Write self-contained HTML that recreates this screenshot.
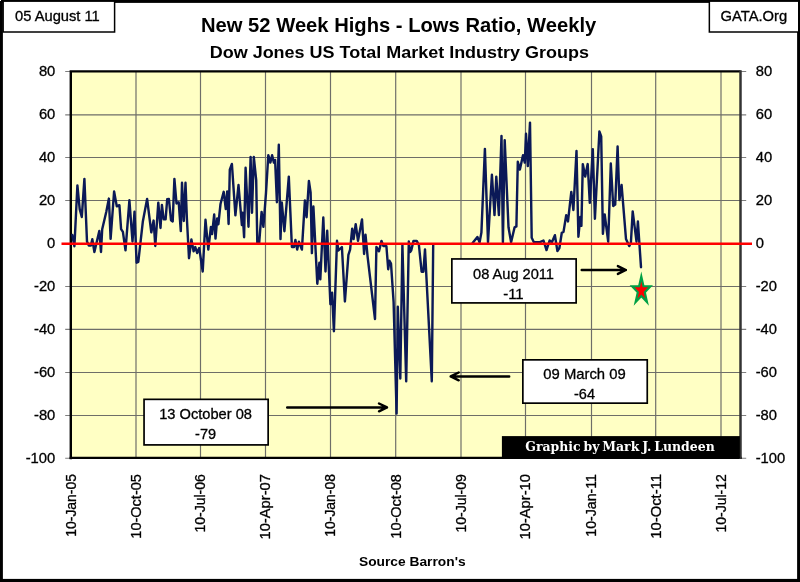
<!DOCTYPE html>
<html lang="en"><head><meta charset="utf-8"><title>New 52 Week Highs - Lows Ratio, Weekly</title>
<style>html,body{margin:0;padding:0;background:#fff}body{width:800px;height:582px;overflow:hidden}svg{display:block}text{font-family:'Liberation Sans', Arial, sans-serif;fill:#000;stroke:#000;stroke-width:.3px}text.b{stroke-width:0}</style></head><body>
<svg width="800" height="582" viewBox="0 0 800 582" style="will-change:transform">
<defs><filter id="gs" filterUnits="userSpaceOnUse" x="0" y="0" width="800" height="582"><feOffset dx="0" dy="0"/></filter></defs>
<rect x="0" y="0" width="800" height="582" fill="#000"/>
<rect x="2.9" y="2.9" width="794.2" height="576.0" fill="#fff"/>
<rect x="70.8" y="71.4" width="669.7" height="386.79999999999995" fill="#ffffc4"/>
<path d="M136.0 71.4V458.2M200.5 71.4V458.2M265.5 71.4V458.2M330.5 71.4V458.2M395.7 71.4V458.2M461.0 71.4V458.2M525.5 71.4V458.2M591.5 71.4V458.2M655.7 71.4V458.2M721.0 71.4V458.2M70.8 114.9H740.5M70.8 157.5H740.5M70.8 200.5H740.5M70.8 243.5H740.5M70.8 286.5H740.5M70.8 329.4H740.5M70.8 372.5H740.5M70.8 415.5H740.5" stroke="#6e6e68" stroke-width="1.18" fill="none"/>
<path d="M65.2 71.5H70.8M740.5 71.5H746.2M65.2 114.9H70.8M740.5 114.9H746.2M65.2 157.5H70.8M740.5 157.5H746.2M65.2 200.5H70.8M740.5 200.5H746.2M65.2 243.5H70.8M740.5 243.5H746.2M65.2 286.5H70.8M740.5 286.5H746.2M65.2 329.4H70.8M740.5 329.4H746.2M65.2 372.5H70.8M740.5 372.5H746.2M65.2 415.5H70.8M740.5 415.5H746.2M65.2 458.3H70.8M740.5 458.3H746.2" stroke="#7f7f7f" stroke-width="1.1" fill="none"/>
<path d="M70.8 459.3V71.4H740.5" stroke="#000" stroke-width="2.4" fill="none"/>
<path d="M69.6 457.9H741.7" stroke="#000" stroke-width="2.2" fill="none"/>
<path d="M740.5 70.2V459.09999999999997" stroke="#333" stroke-width="2.5" fill="none"/>
<polyline points="72.3,235.0 74.4,246.3 77.4,185.4 79.7,209.1 81.8,217.0 84.4,178.9 87.0,241.5 88.8,245.5 90.9,245.5 92.3,239.2 94.4,252.0 99.3,231.0 101.0,252.0 102.2,229.2 106.3,211.7 108.9,198.6 110.6,238.9 114.1,191.5 116.8,206.4 119.4,205.2 121.1,229.2 122.9,231.9 125.5,250.3 129.4,200.3 132.5,241.5 134.5,211.8 136.6,262.7 138.3,261.9 142.8,221.8 147.1,198.9 151.3,232.4 153.6,220.6 155.3,246.0 158.3,202.6 160.5,228.0 161.9,205.0 163.7,219.3 165.6,219.3 167.2,199.3 168.9,199.0 171.0,220.2 172.7,221.4 174.4,178.9 176.5,203.5 178.7,202.2 180.8,231.1 182.0,182.8 183.8,221.0 185.5,182.8 186.9,218.8 189.0,258.2 191.4,239.4 193.6,251.2 195.3,247.0 197.1,253.0 199.2,248.0 202.7,271.5 205.5,219.8 208.3,249.6 210.9,227.0 212.1,234.0 214.2,214.5 215.5,238.6 217.2,218.4 218.4,224.2 220.5,204.0 223.7,191.8 225.8,209.0 227.2,191.5 228.6,224.0 229.8,169.6 231.9,164.0 235.4,215.4 238.5,185.0 241.9,225.1 242.6,212.8 244.1,237.3 245.6,167.8 248.5,226.8 250.6,157.0 252.0,212.8 253.8,157.0 256.2,180.1 257.3,243.0 259.2,242.6 261.6,211.9 263.4,226.8 266.0,193.0 268.3,155.2 270.4,162.6 272.1,155.2 273.9,162.6 275.1,159.9 276.9,202.2 278.8,144.7 280.5,239.1 281.8,202.5 284.4,231.2 288.8,176.6 291.9,247.0 294.0,247.0 295.4,239.9 297.2,249.6 298.9,241.7 301.9,249.6 304.9,200.4 306.6,217.2 308.9,181.0 310.6,192.4 311.9,253.1 313.4,206.5 317.3,283.8 319.4,262.7 320.3,279.4 323.3,217.5 325.5,271.5 327.2,230.8 330.4,304.2 332.1,292.8 333.9,331.3 337.0,240.8 338.4,250.5 341.9,247.0 344.9,301.5 348.4,254.8 350.1,249.6 352.2,228.6 353.6,239.1 355.7,224.2 358.0,240.8 362.0,219.4 364.1,254.0 365.5,234.7 367.6,256.6 375.0,319.1 376.4,247.0 379.0,251.3 381.5,240.9 383.4,246.1 386.4,246.1 388.2,269.2 389.5,260.8 391.0,263.5 393.6,302.0 396.6,413.5 397.8,306.8 400.3,378.5 402.4,244.8 406.2,381.2 408.8,241.4 410.1,252.1 411.3,250.3 413.5,240.9 416.7,240.9 418.9,245.0 421.6,271.7 423.4,271.7 425.0,249.4 431.8,381.4 433.2,244.5" fill="none" stroke="#0b1957" stroke-width="2.42" stroke-linejoin="round" stroke-linecap="round"/>
<polyline points="472.6,243.1 477.4,237.0 479.6,242.2 481.4,232.6 484.9,148.9 488.0,242.2 491.9,174.8 494.5,215.1 496.3,176.6 498.9,215.1 501.5,135.9 502.9,242.2 504.7,140.1 508.5,227.3 511.1,242.2 514.6,227.3 516.4,226.4 517.8,161.7 519.9,169.6 523.0,155.2 524.8,162.6 526.0,133.7 527.8,166.1 530.0,122.6 531.7,237.8 533.9,242.2 540.0,242.2 543.5,240.5 546.5,250.1 549.6,240.5 551.9,242.2 554.9,235.2 557.4,251.1 559.4,248.0 561.8,232.8 563.5,231.9 566.2,215.2 568.0,221.4 571.3,191.9 573.4,210.0 576.5,151.0 578.4,236.7 580.3,217.0 581.4,225.9 582.8,164.1 585.2,176.6 587.7,164.1 589.8,202.9 592.8,149.1 594.9,218.8 599.4,131.4 601.2,136.3 602.9,233.8 604.7,214.5 608.2,241.7 610.8,163.5 613.2,206.0 615.2,204.6 617.6,146.5 619.4,200.0 621.6,185.0 623.0,202.3 626.0,239.1 629.2,246.1 630.9,242.6 632.7,211.4 636.5,241.7 637.9,221.5 641.0,267.2" fill="none" stroke="#0b1957" stroke-width="2.42" stroke-linejoin="round" stroke-linecap="round"/>
<path d="M61.5 243.8H752" stroke="#ff0000" stroke-width="2.5" fill="none"/>
<rect x="501.9" y="436.1" width="238" height="22.2" fill="#000"/>
<rect x="451.85" y="258.95" width="124.30" height="43.95" fill="#fff" stroke="#000" stroke-width="1.7"/>
<rect x="522.85" y="359.85" width="124.40" height="43.30" fill="#fff" stroke="#000" stroke-width="1.7"/>
<rect x="144.05" y="399.35" width="124.10" height="45.55" fill="#fff" stroke="#000" stroke-width="1.7"/>
<path d="M581.7 270.0H625.9M617.9 266.1L625.9 270.0L617.9 273.9" stroke="#000" stroke-width="2.45" fill="none" stroke-linecap="round" stroke-linejoin="round"/>
<path d="M509.2 376.4H450.7M458.7 372.5L450.7 376.4L458.7 380.3" stroke="#000" stroke-width="2.45" fill="none" stroke-linecap="round" stroke-linejoin="round"/>
<path d="M287.2 407.4H387.0M379.0 403.5L387.0 407.4L379.0 411.3" stroke="#000" stroke-width="2.45" fill="none" stroke-linecap="round" stroke-linejoin="round"/>
<polygon points="641.3,276.4 643.5,286.2 650.5,286.2 644.8,292.3 647.0,302.1 641.3,296.0 635.6,302.1 637.8,292.3 632.1,286.2 639.1,286.2" fill="#ff0000" stroke="#00a045" stroke-width="2.15" stroke-linejoin="miter" stroke-miterlimit="12"/>
<rect x="3.15" y="1.15" width="111.45" height="30.85" fill="#fff" stroke="#000" stroke-width="1.5"/>
<rect x="709.35" y="1.15" width="89.4" height="30.85" fill="#fff" stroke="#000" stroke-width="1.5"/>
<rect x="0" y="0" width="1" height="1" fill="#fff"/>
<g filter="url(#gs)">
<text x="525.3" y="450.8" style="font-family:'DejaVu Serif', 'Liberation Serif', serif;stroke-width:0;font-weight:bold;font-size:12.5px;word-spacing:-1.5px;fill:#fff" textLength="189.4" lengthAdjust="spacingAndGlyphs">Graphic by Mark J. Lundeen</text>
<text x="473.0" y="278.8" font-size="14.2" textLength="81.0" lengthAdjust="spacingAndGlyphs">08 Aug 2011</text>
<text x="503.2" y="298.8" font-size="14.2" textLength="20.5" lengthAdjust="spacingAndGlyphs">-11</text>
<text x="543.3" y="379.3" font-size="14.2" textLength="82.4" lengthAdjust="spacingAndGlyphs">09 March 09</text>
<text x="574.0" y="399.3" font-size="14.2" textLength="21.0" lengthAdjust="spacingAndGlyphs">-64</text>
<text x="159.2" y="418.8" font-size="14.2" textLength="92.8" lengthAdjust="spacingAndGlyphs">13 October 08</text>
<text x="195.1" y="438.6" font-size="14.2" textLength="21.0" lengthAdjust="spacingAndGlyphs">-79</text>
<text x="15" y="21.3" font-size="14.2" textLength="84.8" lengthAdjust="spacingAndGlyphs">05 August 11</text>
<text x="720.5" y="21.3" font-size="14.2" textLength="66.7" lengthAdjust="spacingAndGlyphs">GATA.Org</text>
<text x="201" y="32.4" font-size="19.3" font-weight="bold" class="b" textLength="395.3" lengthAdjust="spacingAndGlyphs">New 52 Week Highs - Lows Ratio, Weekly</text>
<text x="209.7" y="58.4" font-size="16.8" font-weight="bold" class="b" textLength="379.3" lengthAdjust="spacingAndGlyphs">Dow Jones US Total Market Industry Groups</text>
<text x="359" y="566.3" font-size="13.4" font-weight="bold" class="b" textLength="106.6" lengthAdjust="spacingAndGlyphs">Source Barron's</text>
<text x="38.9" y="75.8" font-size="14.2" textLength="16.4" lengthAdjust="spacingAndGlyphs">80</text>
<text x="755.7" y="75.8" font-size="14.2" textLength="16.4" lengthAdjust="spacingAndGlyphs">80</text>
<text x="38.9" y="119.2" font-size="14.2" textLength="16.4" lengthAdjust="spacingAndGlyphs">60</text>
<text x="755.7" y="119.2" font-size="14.2" textLength="16.4" lengthAdjust="spacingAndGlyphs">60</text>
<text x="38.9" y="161.8" font-size="14.2" textLength="16.4" lengthAdjust="spacingAndGlyphs">40</text>
<text x="755.7" y="161.8" font-size="14.2" textLength="16.4" lengthAdjust="spacingAndGlyphs">40</text>
<text x="38.9" y="204.8" font-size="14.2" textLength="16.4" lengthAdjust="spacingAndGlyphs">20</text>
<text x="755.7" y="204.8" font-size="14.2" textLength="16.4" lengthAdjust="spacingAndGlyphs">20</text>
<text x="47.1" y="247.8" font-size="14.2" textLength="8.2" lengthAdjust="spacingAndGlyphs">0</text>
<text x="755.7" y="247.8" font-size="14.2" textLength="8.2" lengthAdjust="spacingAndGlyphs">0</text>
<text x="34.0" y="290.8" font-size="14.2" textLength="21.3" lengthAdjust="spacingAndGlyphs">-20</text>
<text x="755.7" y="290.8" font-size="14.2" textLength="21.3" lengthAdjust="spacingAndGlyphs">-20</text>
<text x="34.0" y="333.6" font-size="14.2" textLength="21.3" lengthAdjust="spacingAndGlyphs">-40</text>
<text x="755.7" y="333.6" font-size="14.2" textLength="21.3" lengthAdjust="spacingAndGlyphs">-40</text>
<text x="34.0" y="376.8" font-size="14.2" textLength="21.3" lengthAdjust="spacingAndGlyphs">-60</text>
<text x="755.7" y="376.8" font-size="14.2" textLength="21.3" lengthAdjust="spacingAndGlyphs">-60</text>
<text x="34.0" y="419.8" font-size="14.2" textLength="21.3" lengthAdjust="spacingAndGlyphs">-80</text>
<text x="755.7" y="419.8" font-size="14.2" textLength="21.3" lengthAdjust="spacingAndGlyphs">-80</text>
<text x="25.7" y="462.6" font-size="14.2" textLength="29.6" lengthAdjust="spacingAndGlyphs">-100</text>
<text x="755.7" y="462.6" font-size="14.2" textLength="29.6" lengthAdjust="spacingAndGlyphs">-100</text>
<text transform="translate(76.2 536.7) rotate(-90)" font-size="14.2" textLength="62.6" lengthAdjust="spacingAndGlyphs">10-Jan-05</text>
<text transform="translate(140.9 538.7) rotate(-90)" font-size="14.2" textLength="64.6" lengthAdjust="spacingAndGlyphs">10-Oct-05</text>
<text transform="translate(205.4 532.6) rotate(-90)" font-size="14.2" textLength="58.5" lengthAdjust="spacingAndGlyphs">10-Jul-06</text>
<text transform="translate(270.4 539.5) rotate(-90)" font-size="14.2" textLength="65.4" lengthAdjust="spacingAndGlyphs">10-Apr-07</text>
<text transform="translate(335.4 536.7) rotate(-90)" font-size="14.2" textLength="62.6" lengthAdjust="spacingAndGlyphs">10-Jan-08</text>
<text transform="translate(400.6 538.7) rotate(-90)" font-size="14.2" textLength="64.6" lengthAdjust="spacingAndGlyphs">10-Oct-08</text>
<text transform="translate(465.9 532.6) rotate(-90)" font-size="14.2" textLength="58.5" lengthAdjust="spacingAndGlyphs">10-Jul-09</text>
<text transform="translate(530.4 539.5) rotate(-90)" font-size="14.2" textLength="65.4" lengthAdjust="spacingAndGlyphs">10-Apr-10</text>
<text transform="translate(596.4 536.7) rotate(-90)" font-size="14.2" textLength="62.6" lengthAdjust="spacingAndGlyphs">10-Jan-11</text>
<text transform="translate(660.6 538.7) rotate(-90)" font-size="14.2" textLength="64.6" lengthAdjust="spacingAndGlyphs">10-Oct-11</text>
<text transform="translate(725.9 532.6) rotate(-90)" font-size="14.2" textLength="58.5" lengthAdjust="spacingAndGlyphs">10-Jul-12</text>
</g>
</svg></body></html>
